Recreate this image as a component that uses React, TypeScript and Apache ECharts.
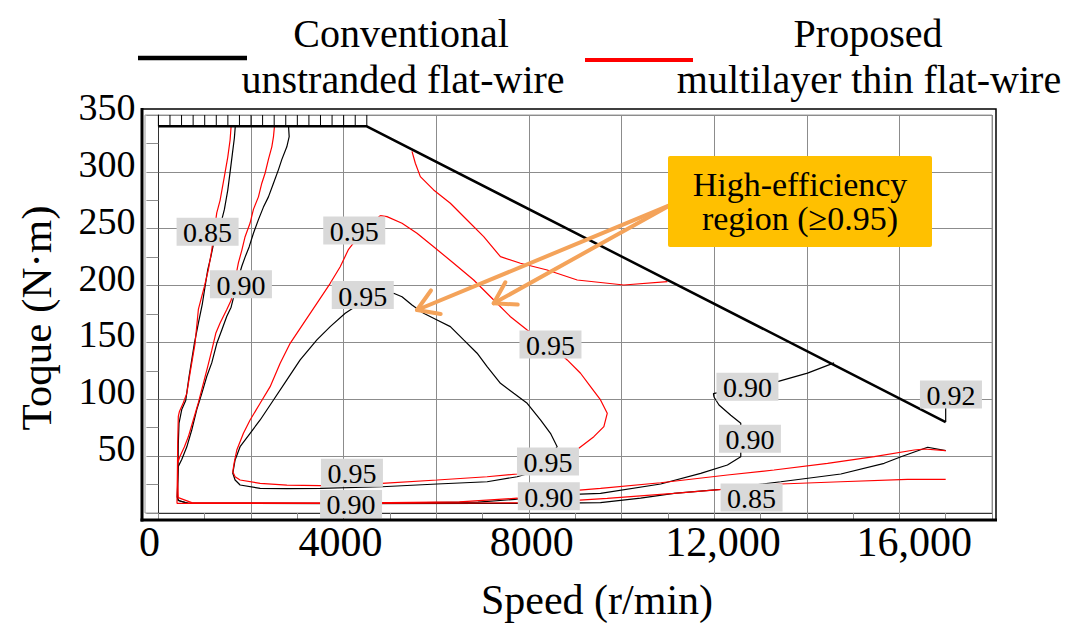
import React, { useEffect, useRef } from "react";
import * as echarts from "echarts";

const FONT = '"Liberation Serif", "Times New Roman", serif';

// Axis tick labels (speed axis labels are drawn as in the figure)
const SPEED_TICKS = [0, 4000, 8000, 12000, 16000];
const SPEED_TICK_LABELS = ["0", "4000", "8000", "12,000", "16,000"];

// Torque-speed envelope
const ENVELOPE = [[0, 340], [4500, 340], [17000, 80]];
const HATCH_SPEEDS = [0, 250, 500, 750, 1000, 1250, 1500, 1750, 2000, 2250, 2500, 2750, 3000, 3250, 3500, 3750, 4000, 4250, 4500];
const HATCH_TORQUE = 340;

// Conventional unstranded flat-wire (black)
const BLACK_085 = [
  [1660, 340], [1641, 330], [1598, 316], [1555, 302], [1498, 284], [1425, 267], [1332, 252], [1187, 236],
  [1131, 225], [1066, 214], [1007, 199], [949, 184], [863, 167], [776, 149], [662, 120], [590, 99],
  [504, 91], [445, 79], [430, 61], [424, 41], [409, 14], [430, 11], [646, 8.5], [4000, 8.3], [7000, 8.5],
  [8250, 8.5], [9547, 9.1], [10412, 13], [11132, 17.3], [12142, 20.8], [13439, 27.5], [14736, 34.3],
  [15672, 43.7], [16035, 49.5], [16611, 57.8], [17000, 54.8],
];
const BLACK_090 = [
  [2810, 340], [2824, 331], [2773, 322], [2666, 311], [2593, 302], [2485, 290], [2376, 278], [2268, 269],
  [2160, 258], [2052, 246], [1959, 234], [1872, 225], [1801, 217], [1714, 205], [1619, 189], [1570, 181],
  [1477, 173], [1369, 161], [1260, 149], [1152, 132], [1044, 120], [936, 105], [828, 91], [720, 73],
  [612, 58], [504, 47], [430, 41], [417, 26], [409, 14], [430, 11], [646, 8.5], [4000, 8.5], [6900, 9.5],
  [7700, 12], [8250, 15.2], [9547, 17.3], [10845, 25.5], [11710, 34.9], [12287, 42.2], [12575, 49.5],
  [12575, 64], [12575, 79], [12359, 86], [12105, 95], [11997, 102], [11984, 105], [12682, 111],
  [13368, 115.5], [14016, 123], [14591, 132],
];
const BLACK_095 = [
  [5079, 193.2], [5260, 190.2], [5476, 182.9], [5727, 175.6], [6017, 169.7], [6304, 163.9], [6592, 152.2],
  [6882, 140.5], [7098, 128.7], [7386, 114.1], [7673, 105.3], [7963, 96.5], [8250, 81.8], [8466, 70.1],
  [8611, 58.3], [8250, 37.8], [7747, 31.9], [7098, 27.5], [6017, 25.5], [4828, 23.1], [3494, 21.7],
  [2774, 21.4], [2197, 21.7], [1764, 24.6], [1656, 29], [1606, 34.9], [1656, 46.6], [1764, 58.3],
  [1980, 70.1], [2197, 81.8], [2485, 99.4], [2774, 117], [3061, 134.6], [3422, 152.2], [3710, 163.9],
  [4034, 175.6], [4467, 187.3], [5079, 193.2],
];
const BLACK_092 = [[17000, 104], [17000, 80]];

// Proposed multilayer thin flat-wire (red)
const RED_085 = [
  [1570, 340], [1548, 328], [1498, 313], [1425, 296], [1332, 275], [1260, 264], [1209, 249], [1152, 231],
  [1079, 214], [992, 199], [863, 179], [791, 149], [683, 123], [612, 105], [538, 97], [452, 89], [430, 85],
  [417, 61], [409, 32], [402, 14], [402, 8.5], [650, 8.5], [4000, 8.5], [7000, 8.8], [8250, 9.1],
  [9692, 12.9], [11132, 17.3], [12178, 20.8], [13439, 25.5], [14736, 27.5], [16178, 29.6], [17000, 29.6],
];
const RED_090 = [
  [2506, 340], [2485, 331], [2449, 322], [2376, 311], [2305, 299], [2233, 290], [2160, 278], [2052, 267],
  [1980, 255], [1872, 243], [1801, 231], [1727, 220], [1641, 202], [1570, 187], [1477, 179], [1332, 167],
  [1239, 158], [1152, 143], [1066, 129], [971, 114], [863, 97], [755, 82], [646, 67], [560, 58], [467, 50],
  [417, 44], [417, 26], [430, 13.5], [720, 9.1], [4000, 8.6], [6500, 9.8], [7750, 13], [8250, 17.3],
  [9547, 21.7], [10845, 26.6], [12287, 33.4], [13294, 37.8], [14449, 43.7], [15457, 49.5], [16321, 55.4],
  [16537, 56.3], [17000, 54.8],
];
const RED_095 = [
  [4791, 261.5], [4936, 260.6], [5260, 254.8], [5584, 246], [5943, 234.2], [6376, 219.6], [6808, 204.9],
  [7241, 187.3], [7602, 172.6], [7963, 161], [8466, 147.8], [8827, 134.6], [9115, 122.9], [9331, 111.1],
  [9547, 99.4], [9692, 87.7], [9619, 75.9], [9403, 67.1], [9078, 56.9], [8423, 44.9], [7747, 34.3],
  [7098, 31.9], [6017, 29], [4828, 26.1], [3494, 24], [2774, 24.6], [2197, 26.1], [1764, 29], [1656, 31.9],
  [1606, 36.3], [1634, 43.7], [1693, 55.4], [1836, 70.1], [1980, 81.8], [2197, 96.5], [2413, 111.1],
  [2629, 131.7], [2845, 149.2], [3133, 166.8], [3422, 184.4], [3710, 202], [3926, 216.6], [4106, 231.9],
  [4467, 250.7], [4791, 261.5],
];
const RED_095_OUTER = [
  [5476, 318], [5548, 307.6], [5656, 295.8], [5943, 284.1], [6304, 272.4], [6665, 257.7], [7024, 243],
  [7386, 225.4], [7818, 219.6], [8395, 213.7], [9044, 204.9], [10051, 200.5], [10990, 203.4],
];

// Contour labels
const LABEL_POSITIONS = [
  [1062, 247.4], [1782, 201.2], [4229, 248.5], [4413, 191.7], [8466, 148.2], [8412, 45.3], [4179, 35.5],
  [4160, 8], [8430, 14.7], [12719, 111.1], [12773, 65.3], [12808, 13.6], [17114, 104.2],
];
const LABEL_TEXTS = ["0.85", "0.90", "0.95", "0.95", "0.95", "0.95", "0.95", "0.90", "0.90", "0.90", "0.90", "0.85", "0.92"];

// Annotation arrows: [fromSpeed, fromTorque, toSpeed, toTorque]
const ARROWS = [
  [11059, 270.9, 5584, 178.5],
  [11059, 270.9, 7241, 184.4],
];

const ARROW_COLOR = "#F4A35A";

function lineSeries(data: number[][], color: string, width = 1.2, z = 3) {
  return {
    type: "line",
    data,
    symbol: "none",
    xAxisIndex: 0,
    yAxisIndex: 0,
    lineStyle: { color, width },
    z,
    silent: true,
  };
}

function txt(text: string, x: number, y: number, size: number, extra: any = {}) {
  return {
    type: "text",
    x,
    y,
    silent: true,
    z: 60,
    ...extra,
    style: {
      text,
      fill: "#000",
      font: `${size}px ${FONT}`,
      fontSize: size,
      fontFamily: FONT,
      align: "center",
      verticalAlign: "middle",
      textAlign: "center",
      textVerticalAlign: "middle",
    },
  };
}

export default function App() {
  const ref = useRef<HTMLDivElement>(null);

  useEffect(() => {
    if (!ref.current) return;
    const chart = echarts.init(ref.current, undefined, { renderer: "svg" });
    const gridColor = "#8c8c8c";

    const option: any = {
      animation: false,
      backgroundColor: "#ffffff",
      grid: [
        { left: 158.4, top: 115, width: 833.6, height: 398, show: false },
        { left: 53.8, top: 115, width: 956, height: 398, show: false },
        { left: 158.4, top: 107, width: 833.6, height: 398, show: false },
      ],
      xAxis: [
        {
          type: "value",
          gridIndex: 0,
          min: 0,
          max: 18000,
          interval: 2000,
          axisLine: { show: true, lineStyle: { color: "#333", width: 1 } },
          axisTick: { show: true, length: 7, lineStyle: { color: gridColor } },
          minorTick: { show: true, splitNumber: 2, length: 7, lineStyle: { color: gridColor } },
          splitLine: { show: true, lineStyle: { color: gridColor, width: 1 } },
          minorSplitLine: { show: false },
          axisLabel: { show: false },
        },
        {
          type: "value",
          gridIndex: 1,
          min: -2000,
          max: 18000,
          interval: 2000,
          axisLine: { show: false },
          axisTick: { show: false },
          splitLine: { show: false },
          axisLabel: {
            show: true,
            margin: 11,
            fontSize: 42,
            lineHeight: 36,
            fontFamily: FONT,
            color: "#000",
            hideOverlap: false,
            showMinLabel: true,
            showMaxLabel: true,
            formatter: (v: number) => {
              const i = SPEED_TICKS.indexOf(Math.round(v));
              return i >= 0 ? SPEED_TICK_LABELS[i] : "";
            },
          },
        },
        { type: "value", gridIndex: 2, min: 0, max: 18000, show: false },
      ],
      yAxis: [
        {
          type: "value",
          gridIndex: 0,
          min: 0,
          max: 350,
          interval: 50,
          axisLine: { show: true, lineStyle: { color: "#333", width: 1 } },
          axisTick: { show: true, length: 12, lineStyle: { color: gridColor } },
          minorTick: { show: true, splitNumber: 2, length: 12, lineStyle: { color: gridColor } },
          splitLine: { show: true, lineStyle: { color: gridColor, width: 1 } },
          minorSplitLine: { show: false },
          axisLabel: { show: false },
        },
        { type: "value", gridIndex: 1, min: 0, max: 350, show: false },
        {
          type: "value",
          gridIndex: 2,
          min: 0,
          max: 350,
          interval: 50,
          axisLine: { show: false },
          axisTick: { show: false },
          splitLine: { show: false },
          axisLabel: {
            show: true,
            margin: 23,
            fontSize: 38,
            fontFamily: FONT,
            color: "#000",
            formatter: (v: number) => (v === 0 ? "" : String(v)),
          },
        },
      ],
      series: [
        lineSeries(ENVELOPE, "#000", 2.5, 6),
        {
          type: "custom",
          xAxisIndex: 0,
          yAxisIndex: 0,
          silent: true,
          z: 6,
          data: HATCH_SPEEDS.map((s) => [s, HATCH_TORQUE]),
          renderItem: (params: any, api: any) => {
            const a = api.coord([api.value(0), api.value(1)]);
            const b = api.coord([api.value(0), 350]);
            return {
              type: "line",
              shape: { x1: a[0], y1: a[1], x2: b[0], y2: b[1] },
              style: { stroke: "#000", lineWidth: 1 },
            };
          },
        },
        lineSeries(BLACK_085, "#000"),
        lineSeries(BLACK_090, "#000"),
        lineSeries(BLACK_095, "#000"),
        lineSeries(BLACK_092, "#000"),
        lineSeries(RED_085, "#ff0000"),
        lineSeries(RED_090, "#ff0000"),
        lineSeries(RED_095, "#ff0000"),
        lineSeries(RED_095_OUTER, "#ff0000"),
        {
          type: "custom",
          xAxisIndex: 0,
          yAxisIndex: 0,
          silent: true,
          clip: false,
          z: 20,
          data: LABEL_POSITIONS,
          renderItem: (params: any, api: any) => {
            const c = api.coord([api.value(0), api.value(1)]);
            return {
              type: "group",
              children: [
                {
                  type: "rect",
                  shape: { x: c[0] - 31, y: c[1] - 14, width: 62, height: 28 },
                  style: { fill: "#d9d9d9" },
                },
                {
                  type: "text",
                  style: {
                    text: LABEL_TEXTS[params.dataIndex],
                    x: c[0],
                    y: c[1] + 1,
                    fill: "#000",
                    font: `28px ${FONT}`,
                    fontSize: 28,
                    fontFamily: FONT,
                    lineHeight: 26,
                    align: "center",
                    verticalAlign: "middle",
                    textAlign: "center",
                    textVerticalAlign: "middle",
                  },
                },
              ],
            };
          },
        },
        {
          type: "custom",
          xAxisIndex: 0,
          yAxisIndex: 0,
          silent: true,
          clip: false,
          z: 30,
          data: ARROWS,
          encode: { x: [0, 2], y: [1, 3] },
          renderItem: (params: any, api: any) => {
            const p0 = api.coord([api.value(0), api.value(1)]);
            const p1 = api.coord([api.value(2), api.value(3)]);
            const ang = Math.atan2(p0[1] - p1[1], p0[0] - p1[0]);
            const L = 24;
            const s = (32 * Math.PI) / 180;
            const h1 = [p1[0] + L * Math.cos(ang + s), p1[1] + L * Math.sin(ang + s)];
            const h2 = [p1[0] + L * Math.cos(ang - s), p1[1] + L * Math.sin(ang - s)];
            const st = { stroke: ARROW_COLOR, lineWidth: 4, lineCap: "round", lineJoin: "round", fill: "none" };
            return {
              type: "group",
              children: [
                { type: "line", shape: { x1: p0[0], y1: p0[1], x2: p1[0], y2: p1[1] }, style: st },
                { type: "polyline", shape: { points: [h1, p1, h2] }, style: st },
              ],
            };
          },
        },
      ],
      graphic: [
        {
          type: "rect",
          silent: true,
          z: -1,
          shape: { x: 145, y: 115, width: 847, height: 398 },
          style: { fill: "none", stroke: "#9a9a9a", lineWidth: 1 },
        },
        {
          type: "rect",
          silent: true,
          z: 40,
          shape: { x: 142, y: 109, width: 854, height: 411 },
          style: { fill: "none", stroke: "#000", lineWidth: 1.5 },
        },
        {
          type: "line",
          silent: true,
          z: 41,
          shape: { x1: 142, y1: 108, x2: 142, y2: 521.5 },
          style: { stroke: "#000", lineWidth: 3 },
        },
        {
          type: "line",
          silent: true,
          z: 41,
          shape: { x1: 140.5, y1: 520, x2: 997, y2: 520 },
          style: { stroke: "#000", lineWidth: 3 },
        },
        // legend
        {
          type: "line",
          silent: true,
          z: 41,
          shape: { x1: 138, y1: 58, x2: 247, y2: 58 },
          style: { stroke: "#000", lineWidth: 4.5 },
        },
        {
          type: "line",
          silent: true,
          z: 41,
          shape: { x1: 585, y1: 60, x2: 693, y2: 60 },
          style: { stroke: "#ff0000", lineWidth: 4 },
        },
        txt("Conventional", 401, 33, 40),
        txt("unstranded flat-wire", 403, 79, 40),
        txt("Proposed", 868, 33, 40),
        txt("multilayer thin flat-wire", 869, 79, 40),
        // axis titles
        txt("Toque (N\u00b7m)", 36, 318, 43, { rotation: Math.PI / 2 }),
        txt("Speed (r/min)", 597, 600, 42),
        // annotation
        {
          type: "rect",
          silent: true,
          z: 50,
          shape: { x: 668, y: 156, width: 264, height: 91, r: 2 },
          style: { fill: "#FFC000" },
        },
        txt("High-efficiency", 800, 184, 34),
        txt("region (\u22650.95)", 800, 218, 34),
      ],
    };

    chart.setOption(option);
    return () => chart.dispose();
  }, []);

  return (
    <div
      ref={ref}
      style={{ position: "fixed", left: 0, top: 0, width: 1075, height: 638, background: "#fff" }}
    />
  );
}
